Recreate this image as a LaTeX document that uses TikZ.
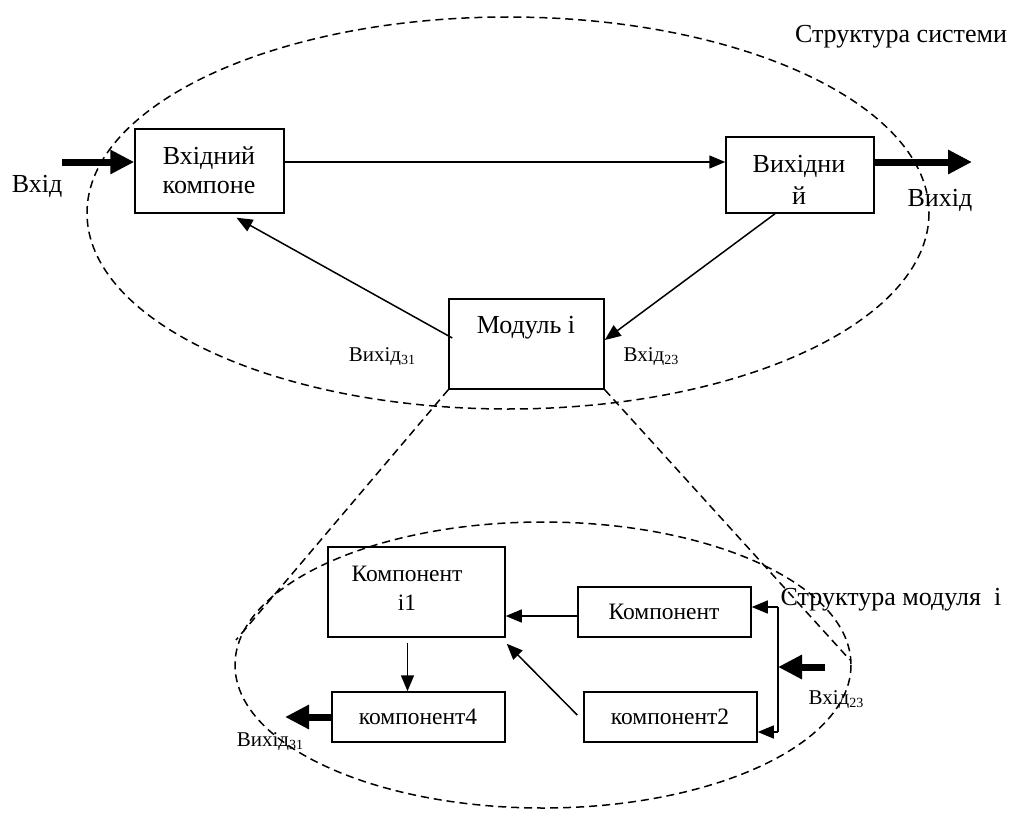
\documentclass[tikz,border=0pt]{standalone}
\usepackage{fontspec}
\setmainfont{Liberation Serif}
\usetikzlibrary{arrows.meta,calc}
\newcommand{\lowidx}[1]{\raisebox{-0.25ex}{\fontsize{14}{14}\selectfont #1}}
\begin{document}
\begin{tikzpicture}[x=1pt,y=-1pt,
  box/.style={draw,line width=1.5pt,rectangle,inner sep=0pt},
  big/.style={font=\fontsize{26}{28}\selectfont},
  mid/.style={font=\fontsize{23.5}{26}\selectfont},
  small/.style={font=\fontsize{21}{23}\selectfont},
  arr/.style={line width=1.5pt,-{Triangle[length=16pt,width=13pt]}},
  fatarr/.style={line width=7pt,-{Triangle[length=24pt,width=23pt]}},
  dsh/.style={line width=1.5pt,dash pattern=on 8pt off 5pt}]
\useasboundingbox (0,0) rectangle (1015,816);

% system level
\draw[dsh] (508,213) ellipse [x radius=421, y radius=196];
\node[box,minimum width=149pt,minimum height=84pt] (b1) at (209.5,171) {};
\node[box,minimum width=148pt,minimum height=76pt] (b2) at (800,175) {};
\node[box,minimum width=155pt,minimum height=90pt] (mod) at (526.5,344) {};
\node[big] (b1a) at (209,158) {Вхідний};
\node[big] (b1b) at (209,188) {компоне};
\node[big] (b2a) at (799,166) {Вихідни};
\node[big] (b2b) at (799,196) {й};
\node[big] (moda) at (526,328) {Модуль і};

\node[big] (inlab) at (37,186) {Вхід};
\node[big] (outlab) at (940,200) {Вихід};
\node[big] (syslab) at (901,37) {Структура системи};
\node[small] (modout) at (382,357) {Вихід\lowidx{31}};
\node[small] (modin) at (651,357) {Вхід\lowidx{23}};

\coordinate (inS) at (62,162);
\coordinate (outE) at (972,162);
\draw[fatarr] (inS) -- ($(b1.west)+(0,-9)$);
\draw[fatarr] ($(b2.east)+(0,-13)$) -- (outE);
\draw[arr] ($(b1.east)+(0,-9)$) -- ($(b2.west)+(0,-13)$);
\draw[arr] ($(mod.west)+(4,-6)$) -- ($(b1.south)+(27,4)$);
\draw[arr] ($(b2.south)+(-25,0)$) -- ($(mod.east)+(0,-4)$);

% zoom lines towards the module structure
\coordinate (zl) at (236,640);
\coordinate (zr) at (850,660);
\draw[dsh] (mod.south west) -- (zl);
\draw[dsh] (mod.south east) -- (zr);

% module level
\draw[dsh] (543,665) ellipse [x radius=308, y radius=143];
\node[box,minimum width=177pt,minimum height=90pt] (i1) at (416.5,592) {};
\node[box,minimum width=173pt,minimum height=50pt] (k4) at (418.5,717) {};
\node[box,minimum width=173pt,minimum height=50pt] (kr) at (664.5,612) {};
\node[box,minimum width=173pt,minimum height=50pt] (k2) at (670.5,717) {};
\node[mid] (i1a) at (407,574) {Компонент};
\node[mid] (i1b) at (407,603) {i1};
\node[mid] (k4a) at (418,717) {компонент4};
\node[mid] (kra) at (664,612) {Компонент};
\node[mid] (k2a) at (670,717) {компонент2};

\node[big] (mslab) at (891,600) {Структура модуля\ \ i};
\node[small] (kout) at (270,742) {Вихід\lowidx{31}};
\node[small] (kin) at (836,700) {Вхід\lowidx{23}};

\draw[arr] ($(i1.south)+(-9,5)$) -- ($(k4.north)+(-11,0)$);
\draw[arr] ($(kr.west)+(0,4)$) -- ($(i1.east)+(0,24)$);
\draw[arr] ($(k2.west)+(-6,-2)$) -- ($(i1.south east)+(1,6)$);

\coordinate (brT) at (778,607);
\coordinate (brB) at (778,732);
\coordinate (brM) at (778,667);
\coordinate (kinS) at (825,667);
\draw[line width=1.5pt] (brT) -- (brB);
\draw[arr] (brT) -- ($(kr.east)+(0,-5)$);
\draw[arr] (brB) -- ($(k2.east)+(0,15)$);
\draw[fatarr] (kinS) -- (brM);
\coordinate (koutE) at (285,717);
\draw[fatarr] (k4.west) -- (koutE);
\end{tikzpicture}
\end{document}
